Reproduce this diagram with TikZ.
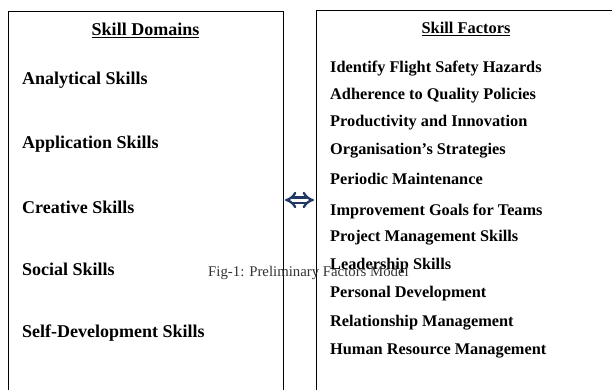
\documentclass[tikz,border=0pt]{standalone}
\usepackage{fontspec}
\setmainfont{Liberation Serif}
\usetikzlibrary{arrows.meta}
\definecolor{navy}{HTML}{1F3864}
\definecolor{capgrey}{HTML}{333333}
\tikzset{
  leftitem/.style={anchor=west, inner sep=0pt, font=\fontsize{18bp}{20bp}\selectfont\bfseries},
  rightitem/.style={anchor=west, inner sep=0pt, font=\fontsize{16.3bp}{18bp}\selectfont\bfseries},
  lefthead/.style={inner sep=0pt, font=\fontsize{18bp}{20bp}\selectfont\bfseries},
  righthead/.style={inner sep=0pt, font=\fontsize{16.4bp}{18bp}\selectfont\bfseries},
  boxline/.style={draw=black, line width=0.9bp},
  dblarrow/.style={draw=navy, double=white, double distance=3bp, line width=2.3bp, {Implies[]}-{Implies[]}},
  caption/.style={inner sep=0pt, text=capgrey, font=\fontsize{14.8bp}{16bp}\selectfont}
}
\begin{document}
\begin{tikzpicture}[x=1bp,y=-1bp]
\useasboundingbox (0,0) rectangle (612,390);
% boxes (open at bottom / right)
\draw[boxline] (8,390) -- (8,11) -- (283,11) -- (283,390);
\draw[boxline] (316,390) -- (316,10) -- (612,10);
% headers
\node[lefthead] (hl) at (145.5,30) {\underline{Skill Domains}};
\node[righthead] (hr) at (466,29) {\underline{Skill Factors}};
% left items
\node[leftitem] (l1) at (22,80) {Analytical Skills};
\node[leftitem] (l2) at (22,144) {Application Skills};
\node[leftitem] (l3) at (22,207) {Creative Skills};
\node[leftitem] (l4) at (22,269) {Social Skills};
\node[leftitem] (l5) at (22,333) {Self-Development Skills};
% right items
\node[rightitem] (r1) at (330,69) {Identify Flight Safety Hazards};
\node[rightitem] (r2) at (330,96) {Adherence to Quality Policies};
\node[rightitem] (r3) at (330,123) {Productivity and Innovation};
\node[rightitem] (r4) at (330,151) {Organisation’s Strategies};
\node[rightitem] (r5) at (330,179) {Periodic Maintenance};
\node[rightitem] (r6) at (330,211) {Improvement Goals for Teams};
\node[rightitem] (r7) at (330,238) {Project Management Skills};
\node[rightitem] (r8) at (330,266) {Leadership Skills};
\node[rightitem] (r9) at (330,294) {Personal Development};
\node[rightitem] (r10) at (330,323) {Relationship Management};
\node[rightitem] (r11) at (330,351) {Human Resource Management};
% caption
\node[caption, anchor=west] (cap) at (208,273) {Fig-1: Preliminary Factors Model};
% arrow
\coordinate (aL) at (285,200);
\coordinate (aR) at (314,200);
\draw[dblarrow] (aL) -- (aR);
\end{tikzpicture}
\end{document}
